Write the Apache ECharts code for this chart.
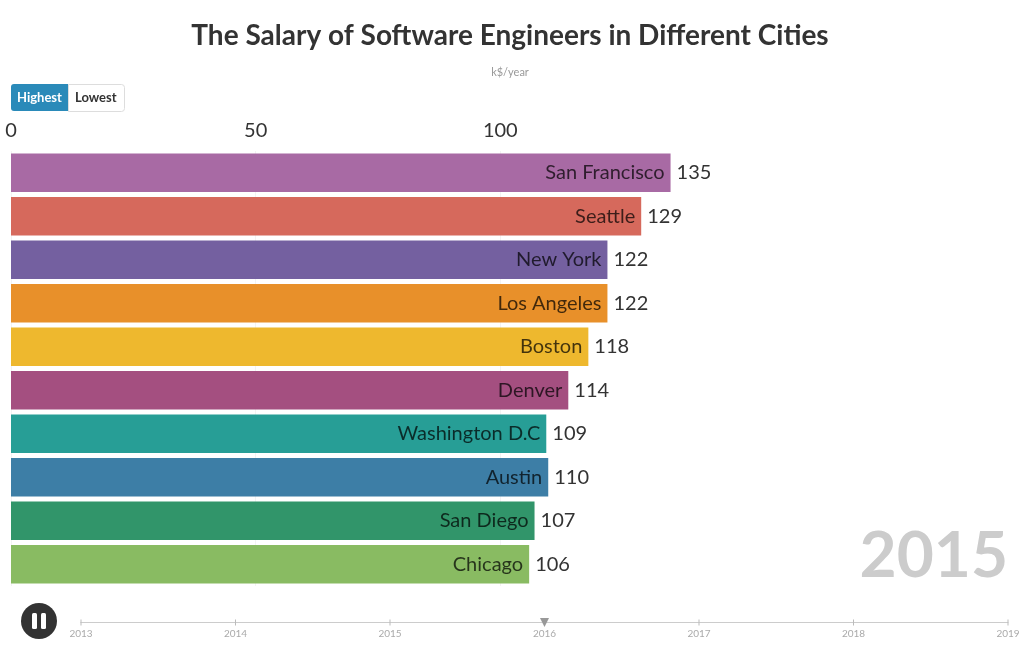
<!DOCTYPE html>
<html>
<head>
<meta charset="utf-8">
<script src="https://cdn.jsdelivr.net/npm/echarts@6/dist/echarts.min.js"></script>
<style>
  html, body { margin: 0; padding: 0; background: #fff; }
  #chart { width: 1020px; height: 650px; }
</style>
</head>
<body>
<div id="chart"></div>
<script>
// datos del gráfico (estado de la animación en el momento de la captura)
const ciudades = ['San Francisco', 'Seattle', 'New York', 'Los Angeles', 'Boston',
                  'Denver', 'Washington D.C', 'Austin', 'San Diego', 'Chicago'];
const salarios = [134.8, 128.8, 121.9, 121.9, 118.0, 113.9, 109.4, 109.8, 107.0, 105.9];
const colores = ['#a86aa4', '#d6695c', '#7460a0', '#e8902a', '#eeb82e',
                 '#a44f80', '#279e96', '#3d7ea6', '#31956a', '#89bb62'];
const anios = ['2013', '2014', '2015', '2016', '2017', '2018', '2019'];
const anioActual = '2015';

const fuente = 'Lato';

const chart = echarts.init(document.getElementById('chart'));

const baseOption = {
  animation: false,
  textStyle: { fontFamily: fuente },
  title: {
    text: 'The Salary of Software Engineers in Different Cities',
    subtext: 'k$/year',
    left: 'center',
    top: 17,
    itemGap: 17,
    textStyle: { fontSize: 28, fontWeight: 'bold', color: '#333', fontFamily: fuente },
    subtextStyle: { fontSize: 11, color: '#999', fontFamily: fuente }
  },
  grid: { left: 11, top: 151, width: 685, height: 435 },
  xAxis: {
    type: 'value',
    position: 'top',
    min: 0,
    max: 140,
    interval: 50,
    axisLine: { show: false },
    axisTick: { show: false },
    axisLabel: { fontSize: 20, color: '#333', margin: 10, fontFamily: fuente, showMaxLabel: false },
    splitLine: { showMaxLine: false, lineStyle: { color: '#f3f3f3' } }
  },
  yAxis: {
    type: 'category',
    inverse: true,
    data: ciudades,
    show: false
  },
  timeline: {
    axisType: 'category',
    data: anios,
    currentIndex: 3,
    autoPlay: false,
    padding: 0,
    left: 81,
    right: 12,
    bottom: -12,
    height: 44,
    symbol: 'rect',
    symbolSize: [1, 6],
    lineStyle: { color: '#ccc', width: 1 },
    itemStyle: { color: '#bbb', borderWidth: 0 },
    label: { color: '#aaa', fontSize: 10, position: 6, fontFamily: fuente },
    checkpointStyle: {
      symbol: 'triangle', symbolRotate: 180, symbolSize: 9,
      color: '#999', borderWidth: 0, animation: false
    },
    progress: {
      lineStyle: { color: '#ccc' },
      itemStyle: { color: '#bbb' },
      label: { color: '#aaa', fontSize: 10 }
    },
    emphasis: { label: { color: '#aaa' }, itemStyle: { color: '#bbb' } },
    controlStyle: { showPlayBtn: false, showPrevBtn: false, showNextBtn: false }
  },
  series: [
    {
      type: 'bar',
      data: salarios,
      barCategoryGap: '12%',
      itemStyle: { color: p => colores[p.dataIndex] },
      label: {
        show: true,
        position: 'insideRight',
        formatter: '{b}',
        fontSize: 20,
        color: 'rgba(0,0,0,0.72)',
        fontFamily: fuente,
        distance: 6
      }
    },
    {
      type: 'bar',
      data: salarios,
      barGap: '-100%',
      barCategoryGap: '12%',
      itemStyle: { color: 'rgba(0,0,0,0)' },
      label: {
        show: true,
        position: 'right',
        formatter: p => Math.round(p.value),
        fontSize: 20,
        color: '#333',
        fontFamily: fuente,
        distance: 6
      },
      silent: true
    }
  ],
  graphic: [
    // botones Highest / Lowest
    { type: 'rect', left: 11, top: 84, shape: { width: 57, height: 27, r: [3, 0, 0, 3] },
      style: { fill: '#2a8ab9' } },
    { type: 'rect', left: 68, top: 84, shape: { width: 56, height: 27, r: [0, 3, 3, 0] },
      style: { fill: '#fff', stroke: '#ddd', lineWidth: 1 } },
    { type: 'text', left: 17, top: 91,
      style: { text: 'Highest', fill: '#fff', font: 'bold 13px ' + fuente } },
    { type: 'text', left: 75, top: 91,
      style: { text: 'Lowest', fill: '#333', font: 'bold 13px ' + fuente } },
    // año grande
    { type: 'text', right: 12, top: 524,
      style: { text: anioActual, fill: '#ccc', font: 'bold 64px ' + fuente } },
    // botón de pausa
    { type: 'circle', shape: { cx: 39, cy: 621, r: 18 }, style: { fill: '#333' } },
    { type: 'rect', shape: { x: 32, y: 613, width: 5, height: 16, r: 1.5 }, style: { fill: '#fff' } },
    { type: 'rect', shape: { x: 41, y: 613, width: 5, height: 16, r: 1.5 }, style: { fill: '#fff' } }
  ]
};

chart.setOption({
  baseOption: baseOption,
  options: anios.map(() => ({}))
});
</script>
</body>
</html>
